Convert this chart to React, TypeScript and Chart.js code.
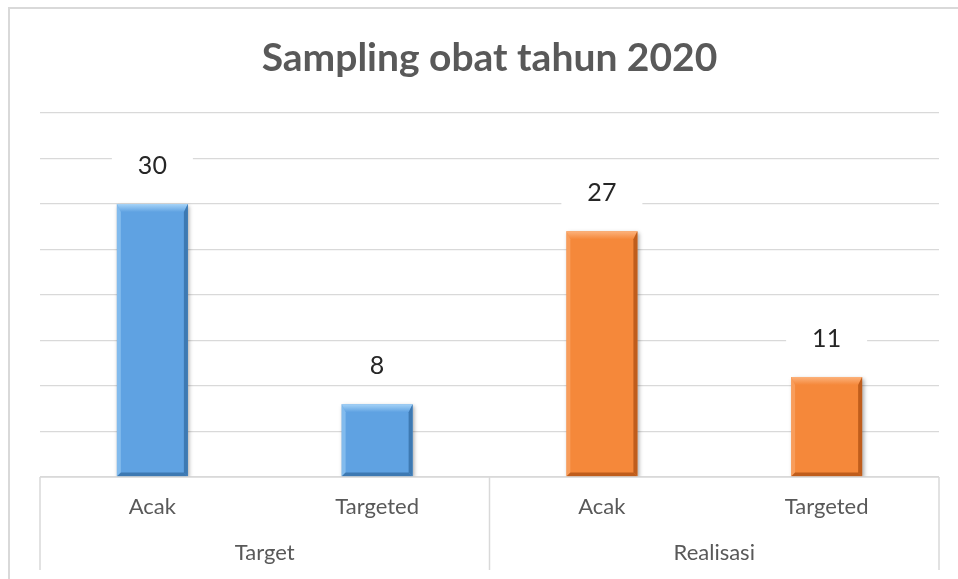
import React, { useEffect, useRef } from "react";
import { Chart, registerables } from "chart.js";

Chart.register(...registerables);

const TITLE = "Sampling obat tahun 2020";
const categories = ["Acak", "Targeted", "Acak", "Targeted"];
const groups = ["Target", "Realisasi"];
const groupSpans = [2, 2];
const values = [30, 8, 27, 11];
const faceColors = ["#5fa2e2", "#5fa2e2", "#f5883a", "#f5883a"];
const lightColors = ["#a6d3f7", "#a6d3f7", "#fcb27c", "#fcb27c"];
const darkColors = ["#3a74ad", "#3a74ad", "#b9591a", "#b9591a"];
const Y_MIN = 0;
const Y_MAX = 40;
const Y_STEP = 5;

const FONT = "Lato, 'Open Sans', sans-serif";
const GRID = "#d9d9d9";

const framePlugin = {
  id: "frame",
  beforeDraw(chart: any) {
    const ctx = chart.ctx;
    ctx.save();
    ctx.fillStyle = "#ffffff";
    ctx.fillRect(0, 0, chart.width, chart.height);
    ctx.strokeStyle = GRID;
    ctx.lineWidth = 2;
    ctx.beginPath();
    ctx.moveTo(9, chart.height);
    ctx.lineTo(9, 8);
    ctx.lineTo(chart.width, 8);
    ctx.stroke();
    ctx.restore();
  },
};

const shadowPlugin = {
  id: "barShadow",
  beforeDatasetsDraw(chart: any) {
    const ctx = chart.ctx;
    ctx.save();
    ctx.shadowColor = "rgba(0,0,0,0.35)";
    ctx.shadowBlur = 4;
    ctx.shadowOffsetX = 1.5;
    ctx.shadowOffsetY = 2;
  },
  afterDatasetsDraw(chart: any) {
    const ctx = chart.ctx;
    ctx.restore();
    const meta = chart.getDatasetMeta(0);
    meta.data.forEach((bar: any, i: number) => {
      const l = bar.x - bar.width / 2;
      const r = bar.x + bar.width / 2;
      const t = bar.y;
      const b = bar.base;
      const bv = 8;
      const sv = 4;
      ctx.save();
      // top bevel
      const g = ctx.createLinearGradient(0, t, 0, t + bv);
      g.addColorStop(0, lightColors[i]);
      g.addColorStop(1, faceColors[i]);
      ctx.fillStyle = g;
      ctx.beginPath();
      ctx.moveTo(l, t);
      ctx.lineTo(r, t);
      ctx.lineTo(r - sv, t + bv);
      ctx.lineTo(l + sv, t + bv);
      ctx.closePath();
      ctx.fill();
      // left bevel
      ctx.globalAlpha = 0.5;
      ctx.fillStyle = lightColors[i];
      ctx.beginPath();
      ctx.moveTo(l, t);
      ctx.lineTo(l + sv, t + bv);
      ctx.lineTo(l + sv, b - sv);
      ctx.lineTo(l, b);
      ctx.closePath();
      ctx.fill();
      // right bevel
      ctx.globalAlpha = 0.9;
      ctx.fillStyle = darkColors[i];
      ctx.beginPath();
      ctx.moveTo(r, t);
      ctx.lineTo(r, b);
      ctx.lineTo(r - sv, b - sv);
      ctx.lineTo(r - sv, t + bv);
      ctx.closePath();
      ctx.fill();
      // bottom bevel
      ctx.beginPath();
      ctx.moveTo(l, b);
      ctx.lineTo(r, b);
      ctx.lineTo(r - sv, b - sv);
      ctx.lineTo(l + sv, b - sv);
      ctx.closePath();
      ctx.fill();
      ctx.restore();
    });
  },
};

const labelPlugin = {
  id: "valueLabels",
  afterDatasetsDraw(chart: any) {
    const ctx = chart.ctx;
    const meta = chart.getDatasetMeta(0);
    ctx.save();
    ctx.font = `25px ${FONT}`;
    ctx.textAlign = "center";
    ctx.textBaseline = "middle";
    meta.data.forEach((bar: any, i: number) => {
      const txt = String(values[i]);
      const w = ctx.measureText(txt).width + 52;
      const cy = bar.y - 38;
      ctx.fillStyle = "#ffffff";
      ctx.fillRect(bar.x - w / 2, cy - 16, w, 32);
      ctx.fillStyle = "#262626";
      ctx.fillText(txt, bar.x, cy);
    });
    ctx.restore();
  },
};

const axisPlugin = {
  id: "multiAxis",
  afterDraw(chart: any) {
    const ctx = chart.ctx;
    const area = chart.chartArea;
    const xs = chart.scales.x;
    const bottom = area.bottom;
    const lowEnd = bottom + 93;
    ctx.save();
    ctx.strokeStyle = GRID;
    ctx.lineWidth = 1.5;
    ctx.beginPath();
    ctx.moveTo(area.left, bottom);
    ctx.lineTo(area.right, bottom);
    let idx = 0;
    const edges: number[] = [area.left];
    groupSpans.forEach((span) => {
      idx += span;
      if (idx < categories.length) {
        edges.push((xs.getPixelForValue(idx - 1) + xs.getPixelForValue(idx)) / 2);
      }
    });
    edges.push(area.right);
    edges.forEach((ex) => {
      ctx.moveTo(ex, bottom);
      ctx.lineTo(ex, lowEnd);
    });
    ctx.stroke();

    ctx.fillStyle = "#595959";
    ctx.textAlign = "center";
    ctx.textBaseline = "middle";
    ctx.font = `22px ${FONT}`;
    categories.forEach((c, i) => {
      ctx.fillText(c, xs.getPixelForValue(i), bottom + 30);
    });
    groups.forEach((gname, gi) => {
      const cx = (edges[gi] + edges[gi + 1]) / 2;
      ctx.fillText(gname, cx, bottom + 76);
    });
    ctx.restore();
  },
};

export default function App() {
  const ref = useRef<HTMLCanvasElement | null>(null);
  useEffect(() => {
    if (!ref.current) return;
    const chart = new Chart(ref.current, {
      type: "bar",
      data: {
        labels: categories,
        datasets: [
          {
            data: values,
            backgroundColor: faceColors,
            borderWidth: 0,
            barPercentage: 0.316,
            categoryPercentage: 1,
          },
        ],
      },
      options: {
        animation: false,
        responsive: true,
        maintainAspectRatio: false,
        layout: { padding: { left: 40, right: 19, bottom: 102, top: 0 } },
        plugins: {
          legend: { display: false },
          tooltip: { enabled: false },
          title: {
            display: true,
            text: TITLE,
            color: "#595959",
            font: { family: FONT, size: 39, weight: "bold" },
            padding: { top: 35, bottom: 31.2 },
          },
        },
        scales: {
          x: { display: false },
          y: {
            min: Y_MIN,
            max: Y_MAX,
            ticks: { display: false, stepSize: Y_STEP },
            grid: { color: GRID, lineWidth: 1.2, drawTicks: false },
            border: { display: false },
          },
        },
      },
      plugins: [framePlugin, shadowPlugin, labelPlugin, axisPlugin],
    });
    return () => chart.destroy();
  }, []);
  return (
    <div style={{ position: "fixed", left: 0, top: 0, width: 958, height: 579 }}>
      <canvas ref={ref} />
    </div>
  );
}
